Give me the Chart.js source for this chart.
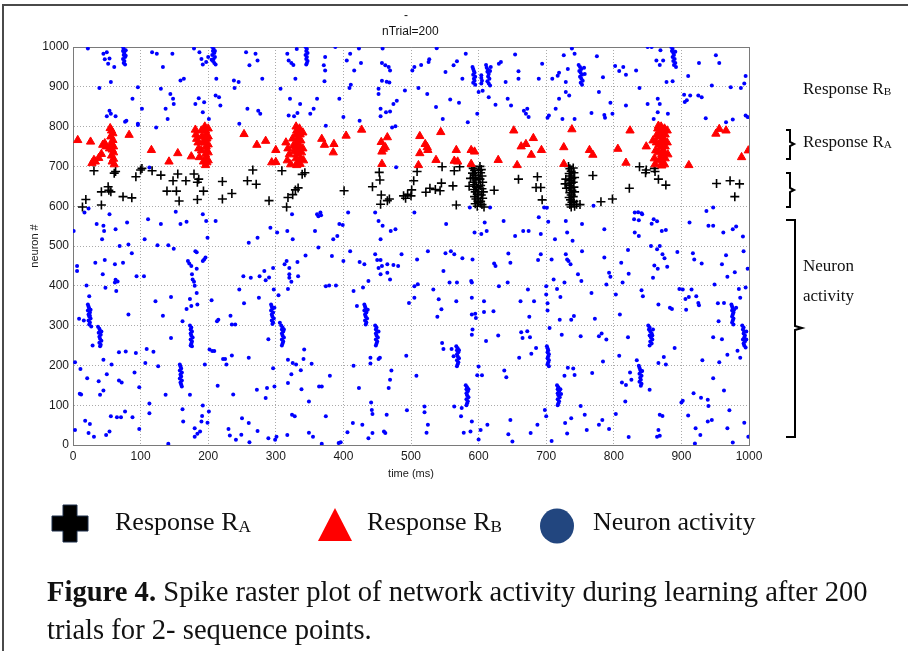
<!DOCTYPE html>
<html><head><meta charset="utf-8">
<script src="https://cdn.jsdelivr.net/npm/chart.js@4.4.1/dist/chart.umd.min.js"></script>
<style>
html,body{margin:0;padding:0;background:#fff;}
body{width:908px;height:651px;position:relative;overflow:hidden;font-family:"Liberation Serif","Times New Roman",serif;color:#111;}
#frame{position:absolute;left:2px;top:4px;width:920px;height:700px;border-top:2px solid #4a4a4a;border-left:2px solid #4a4a4a;}
canvas{position:absolute;left:0;top:0;}
.t{position:absolute;white-space:nowrap;}
.sub{font-size:0.66em;position:relative;top:0.12em;}
svg{position:absolute;left:0;top:0;}
</style>
</head><body>
<div id="frame"></div>
<canvas id="c" width="908" height="651"></canvas>
<svg width="908" height="651" viewBox="0 0 908 651">
  <g fill="none" stroke="#000" stroke-width="2">
    <path d="M786,130 L790,130 L790,142 L794,144 L790,146 L790,159 L786,159"/>
    <path d="M786,173 L790,173 L790,188 L794,190 L790,192 L790,207 L786,207"/>
    <path d="M786,220 L795,220 L795,326 L802,328 L795,330 L795,437 L786,437"/>
  </g>
  <path d="M63,505 L77,505 L77,516 L88,516 L88,531 L77,531 L77,542 L63,542 L63,531 L52,531 L52,516 L63,516 Z" fill="#000" stroke="#1c2f4a" stroke-width="1"/>
  <polygon points="335,508 352,541 318,541" fill="#ff0000"/>
  <ellipse cx="557" cy="526" rx="17" ry="17.5" fill="#22467f"/>
</svg>
<div class="t" style="left:404px;top:8px;font:12px 'Liberation Sans',Arial,sans-serif;">-</div>
<div class="t" style="left:382px;top:24px;font:12px 'Liberation Sans',Arial,sans-serif;">nTrial=200</div>
<div class="t" style="left:803px;top:79px;font-size:17px;line-height:20px;">Response R<span class="sub">B</span></div>
<div class="t" style="left:803px;top:132px;font-size:17px;line-height:20px;">Response R<span class="sub">A</span></div>
<div class="t" style="left:803px;top:256px;font-size:17px;line-height:20px;">Neuron</div>
<div class="t" style="left:803px;top:286px;font-size:17px;line-height:20px;">activity</div>
<div class="t" style="left:115px;top:507px;font-size:26px;line-height:30px;">Response R<span class="sub">A</span></div>
<div class="t" style="left:367px;top:507px;font-size:26px;line-height:30px;">Response R<span class="sub">B</span></div>
<div class="t" style="left:593px;top:507px;font-size:26px;line-height:30px;">Neuron activity</div>
<div class="t" style="left:47px;top:573px;font-size:28.6px;line-height:38px;"><b>Figure 4.</b> Spike raster plot of network activity during learning after 200<br>trials for 2- sequence points.</div>
<script>
const xTicks = [0,100,200,300,400,500,600,700,800,900,1000];
const yTicks = [0,100,200,300,400,500,600,700,800,900,1000];

const responseB = [
[7,766],[26,762],[28,708],[31,716],[33,712],[38,721],[42,731],[44,754],[47,758],[49,750],
[55,796],[57,790],[59,783],[56,775],[59,766],[57,758],[60,750],[58,742],[60,735],[57,727],[60,719],[58,712],[61,705],[54,745],
[83,779],[116,741],[142,712],[155,733],[175,725],
[181,792],[182,780],[183,769],[185,760],[186,745],[187,723],[190,790],[191,775],[192,760],[190,740],[193,712],[195,800],[196,790],[197,780],[198,770],[196,760],[197,750],[198,740],[196,730],[197,720],[198,710],[196,703],[200,795],[200,775],[200,755],[200,735],[200,715],
[253,781],[272,754],[285,764],[294,710],[300,711],[300,741],
[315,760],[318,745],[320,730],[317,715],[322,705],[325,770],[326,752],[327,738],[330,800],[331,790],[330,780],[332,770],[331,760],[330,750],[332,740],[331,730],[330,720],[332,710],[331,703],[335,795],[336,780],[337,765],[336,750],[338,735],[337,720],[336,706],[340,785],[340,745],[341,715],
[368,769],[372,754],[386,756],[385,735],[404,777],[427,792],[456,761],[459,744],[462,748],[465,773],[457,737],[457,706],[513,776],[521,756],[524,748],[513,733],[525,741],[537,716],[544,786],[567,741],[564,714],[569,712],[589,741],[594,737],[589,706],[511,703],[629,716],[652,790],[657,703],[663,750],[670,756],[678,729],[681,771],[693,741],[726,748],[726,706],[738,793],[764,741],[769,729],
[806,744],[818,709],[824,790],[848,750],[858,765],[866,802],
[860,720],[862,740],[863,760],[864,780],[861,705],[865,795],[866,775],[867,755],[866,735],[867,715],[870,800],[871,790],[870,780],[872,770],[871,760],[870,750],[872,740],[871,730],[870,720],[872,710],[871,702],[875,795],[876,780],[875,765],[876,750],[875,735],[876,720],[875,705],[879,790],[879,760],[880,730],
[911,703],[951,782],[956,794],[966,790],[989,723],[999,740]
];

const responseA = [
[14,598],[19,617],[31,689],[42,636],[42,603],[52,649],[53,640],[56,636],[61,683],[63,687],[74,624],[87,621],[93,674],[100,691],[102,695],[117,689],[130,678],[139,638],[148,664],[153,638],[155,681],[157,613],[167,664],[179,681],[184,660],[186,668],[184,617],[193,638],[221,662],[221,618],[235,632],[258,664],[266,691],[271,655],[290,614],[309,689],[316,598],[318,622],[325,629],[329,641],[333,646],[339,680],[343,684],
[401,639],[443,649],[453,685],[454,666],[456,628],[455,605],[465,614],[468,618],[489,626],[492,620],[495,630],[500,626],[501,641],[504,664],[509,687],[522,635],[528,645],[536,642],[543,639],[545,658],[546,699],[562,651],[564,689],[572,699],[567,603],
[590,700],[592,695],[594,690],[591,683],[595,678],[593,672],[596,666],[592,660],[594,654],[597,648],[593,642],[595,636],[598,630],[594,624],[596,618],[599,612],[595,606],[598,600],[602,700],[604,692],[603,684],[605,676],[602,668],[606,660],[603,652],[605,644],[607,636],[604,628],[606,620],[603,612],[605,604],[608,598],[600,690],[600,670],[600,650],[600,630],[600,610],[588,670],[586,650],
[623,640],[659,668],[687,674],[685,647],[692,647],[694,616],
[733,700],[735,694],[737,688],[734,682],[736,676],[738,670],[735,664],[737,658],[734,652],[736,646],[738,640],[735,634],[737,628],[734,622],[736,616],[738,610],[735,604],[737,598],[740,696],[741,684],[742,672],[740,660],[741,648],[742,636],[740,624],[741,612],[742,600],[729,668],[728,656],[730,645],[745,605],
[750,604],[769,677],[781,611],[798,618],[823,645],[838,699],[848,691],[847,684],[860,695],[861,687],[866,668],[877,653],[952,657],[972,664],[986,656],[979,624]
];

const neuronActivity = [
[22,996],[45,983],[50,987],[47,969],[52,958],[54,971],[61,950],[56,912],
[74,1000],[75,995],[74,990],[76,985],[75,980],[77,975],[74,970],[76,965],[75,960],[77,956],[78,992],[78,978],
[39,897],[54,840],[56,832],[50,826],[63,826],[79,815],[88,870],[96,899],[96,807],[102,845],
[117,987],[124,983],[133,950],[147,983],[130,895],[144,882],[148,870],[149,857],[137,845],[140,819],[159,916],[164,920],[123,798],
[179,996],[187,987],[190,970],[192,956],[197,962],[200,975],
[206,1000],[208,995],[207,990],[209,985],[206,980],[210,975],[208,970],[207,965],[209,960],[211,956],[205,968],[210,990],
[181,857],[186,871],[192,836],[194,861],[201,819],[211,878],[216,874],[218,853],[212,920],
[238,916],[245,912],[239,897],[256,987],[270,983],[273,966],[261,954],[280,920],[258,845],[274,840],[277,832],[246,807],
[317,983],[319,966],[323,960],[326,955],[331,995],[329,920],
[344,1000],[346,995],[345,990],[347,985],[344,980],[346,975],[345,970],[347,965],[346,960],[345,956],
[307,895],[321,870],[319,828],[327,826],[332,834],[336,857],[351,832],[356,845],[361,870],[371,954],[373,975],[372,914],[374,802],
[373,941],[394,870],[388,1000],[410,983],[423,996],[426,960],[416,941],[405,966],[400,824],[411,905],[409,897],[424,815],
[458,996],[457,960],[462,954],[467,950],[469,941],[464,913],[468,911],[457,915],[452,895],[452,882],[455,845],[463,836],[469,838],[455,826],[474,857],[479,865],[472,798],[491,891],[477,801],
[502,941],[505,950],[511,897],[524,882],[527,969],[526,962],[538,997],[537,849],[515,955],[547,819],[551,937],[563,954],[568,964],[581,983],[558,868],[571,860],[576,920],[584,811],
[591,950],[592,945],[593,940],[594,935],[592,930],[595,925],[593,920],[594,915],[592,910],[595,905],
[604,929],[604,922],[605,915],[604,908],
[611,955],[612,948],[614,943],[613,938],[615,932],[614,926],[616,920],[613,914],[615,908],[617,903],[618,950],[617,940],
[598,832],[600,887],[606,890],[615,874],[625,855],[630,958],[633,962],[640,912],[643,870],[648,853],[654,981],[659,939],[659,920],[667,840],[670,832],[672,845],[674,824],[689,920],[694,958],
[726,979],[738,996],[742,983],[732,945],[719,935],[717,928],[709,920],[729,912],[729,887],[719,870],[734,878],[724,819],[714,845],[704,828],[702,822],[742,819],
[748,955],[750,950],[752,945],[749,940],[751,935],[753,930],[750,925],[752,920],[754,915],[751,910],[753,905],[756,948],[757,932],
[767,834],[775,977],[784,924],[778,887],[786,829],[787,822],[798,832],[795,860],
[802,952],[808,940],[814,950],[818,930],[833,941],[838,897],[818,853],[850,1000],[856,1000],[869,992],[863,966],[868,955],[873,966],[878,912],[887,914],[850,857],[865,870],[868,857],[859,819],[865,836],[880,832],
[885,1000],[887,995],[886,990],[888,985],[889,980],[887,975],[890,970],[888,965],[891,960],[889,955],[892,950],[891,988],
[910,927],[904,880],[908,866],[913,878],[925,878],[930,874],[926,960],[951,979],[956,960],[945,903],[973,899],[988,897],[993,908],[995,927],[936,821],[966,811],[976,818],[995,828],[998,824],[905,862],
[77,812],[96,804],[113,697],[478,698],
[1,538],[17,584],[23,594],[35,555],[43,517],[45,551],[46,538],[54,580],[63,542],[80,559],[111,567],[106,517],[130,555],[152,586],[159,555],[168,561],[192,580],[197,563],[211,563],[199,521],[273,521],[292,546],[302,534],[317,538],[324,580],[325,517],[358,538],[361,580],[363,575],
[366,584],[367,577],[385,517],[394,555],[399,553],[391,525],[407,584],[447,584],[452,563],[458,551],[455,517],[470,538],[477,542],[505,584],[552,555],[587,597],[594,534],[604,530],[609,559],[612,538],[617,597],[637,563],[654,525],[666,538],[674,538],[689,572],[692,530],[697,597],[701,596],[703,561],[713,517],[729,563],[731,534],[739,513],[753,555],[770,601],
[786,542],[831,584],[836,585],[841,582],[830,567],[837,565],[842,580],[859,567],[864,562],[871,538],[877,540],[856,556],[831,534],[837,525],[912,559],[937,588],[940,551],[947,597],[947,551],[962,534],[976,542],[981,549],[991,524],
[3,38],[6,450],[6,437],[3,208],[11,191],[10,129],[12,127],[18,61],[25,53],[21,168],[23,30],[9,317],[16,313],[20,401],[24,374],[31,21],[29,250],[33,458],[38,160],[40,126],[45,137],[45,214],[47,465],[48,395],[50,178],[49,25],[54,34],[56,72],[57,202],[44,429],[62,408],[63,415],[64,387],[62,454],[66,411],[68,233],[68,162],[69,500],[72,157],[71,70],[65,70],[74,458],[78,235],[77,84],[82,504],[82,328],[87,482],[88,70],[91,182],[93,231],[94,424],[98,145],[98,40],[105,424],[109,241],[107,206],[113,104],[113,80],[119,234],[122,361],[126,198],[125,502],[133,325],[137,126],[141,3],[141,502],[145,269],[145,372],[149,493],
[22,353],[23,348],[24,343],[22,338],[25,333],[23,328],[24,323],[26,318],[23,313],[25,308],[24,303],[27,298],[26,340],[25,325],
[37,297],[39,292],[40,287],[38,282],[41,277],[39,272],[40,267],[42,262],[39,257],[41,252],[40,248],[42,285],
[158,202],[159,197],[160,192],[158,187],[161,182],[159,177],[160,172],[158,167],[161,162],[159,157],[160,152],[161,147],
[162,311],[162,90],[163,59],[168,342],[170,462],[172,456],[173,367],[173,126],[175,349],[175,450],[176,429],[177,416],[179,410],[180,400],[183,382],[183,443],[184,353],[181,487],[183,484],
[173,300],[175,295],[174,290],[176,285],[174,280],[175,275],[177,270],[174,265],[176,260],[175,255],[174,250],[176,248],
[180,42],[180,21],[184,28],[188,34],[190,59],[191,73],[192,99],[195,202],[192,462],[194,466],[196,471],[199,56],[201,84],[202,240],[206,236],[205,364],[209,236],[213,311],[215,315],[214,149],[222,216],[225,216],[227,202],[230,40],[232,24],[235,225],[233,325],[235,303],[237,127],[240,303],[241,13],[246,391],[249,26],[250,67],[252,424],[253,356],[260,55],[260,219],[261,7],[260,508],[263,420],[272,139],[273,35],[275,370],[276,424],[283,437],[285,414],[285,118],[287,143],[289,266],[289,17],[290,421],[296,193],[298,147],[296,445],[297,391],[299,13],[301,21],[304,376],[306,307],[313,454],[316,462],[317,25],[318,392],[320,429],[320,445],[320,420],[323,410],[318,214],[318,156],[323,178],[325,206],[324,76],[330,202],[328,72],[332,460],[333,424],[337,188],[338,140],[341,216],[342,240],[344,476],[349,109],[349,31],[353,204],[355,21],[363,496],[364,147],[368,147],[368,3],[374,72],[374,399],
[293,353],[294,348],[295,343],[293,338],[296,333],[294,328],[295,323],[297,318],[294,313],[296,308],[295,304],[298,345],
[308,300],[310,295],[309,290],[311,285],[309,280],[310,275],[312,270],[309,265],[311,260],[310,255],[309,250],[312,290],
[380,174],[383,475],[379,401],[389,401],[393,5],[396,7],[400,462],[410,487],[415,387],[415,199],[406,32],[414,55],[420,349],[423,143],[424,460],[428,51],[429,396],[431,454],[437,412],[440,219],[440,205],[437,17],[441,107],[442,88],[443,78],[443,30],[447,479],[450,465],[452,445],[455,465],[455,429],[457,450],[462,30],[460,34],[465,454],[465,433],[469,416],[467,143],[469,164],[471,187],[474,452],[481,450],[486,479],[464,76],[454,219],[452,216],[493,224],[494,87],[497,357],[505,370],[505,399],[510,404],[508,174],[509,466],[520,97],[520,82],[523,31],[525,487],[525,51],[533,391],[539,322],[541,366],[545,341],[546,256],[548,437],[548,241],[551,482],[557,408],[559,487],[564,479],[560,241],[567,361],[563,223],[568,408],[564,97],[574,72],[575,93],[576,469],[578,31],[588,34],[590,59],[591,290],[590,277],[589,412],[590,408],[590,370],[591,466],[590,328],[595,330],[596,319],[600,197],[598,175],[600,14],[603,38],[605,175],[608,361],[608,334],[611,261],[613,51],[622,336],[623,456],[625,450],[629,275],[630,399],[638,187],[641,170],[643,408],[644,481],[647,458],[647,63],[644,27],[650,9],[660,219],[662,361],[663,283],[665,269],[672,286],[673,391],[675,322],[676,271],[677,30],[678,229],[682,361],[685,244],[687,51],[688,465],[692,479],[698,88],[700,72],[700,378],[702,356],[700,399],[702,338],[705,294],[708,10],[708,466],[711,416],[716,392],[720,315],[721,372],[723,277],[727,408],[727,174],[729,479],[731,466],[733,462],[736,454],[737,67],[728,55],[731,29],[732,194],[737,315],[740,192],[741,324],[742,176],[747,429],[751,273],[751,98],[752,412],[757,76],[760,38],[768,181],[767,382],[772,317],[753,487],
[431,353],[432,348],[433,343],[431,338],[434,333],[432,328],[433,323],[435,318],[432,313],[434,308],[433,303],[436,340],
[447,300],[449,295],[448,290],[450,285],[448,280],[449,275],[451,270],[448,265],[450,260],[449,255],[448,250],[452,285],
[567,248],[569,243],[568,238],[570,233],[568,228],[569,223],[571,218],[568,213],[570,208],[569,203],[568,198],[571,238],
[581,150],[583,145],[582,140],[584,135],[582,130],[583,125],[585,120],[582,115],[584,110],[583,105],[582,100],[585,140],
[701,248],[702,243],[703,238],[702,233],[704,228],[703,223],[702,218],[704,213],[703,208],[702,203],[704,198],
[716,150],[718,145],[717,140],[719,135],[717,130],[718,125],[720,120],[717,115],[719,110],[718,105],[717,100],[721,140],[722,128],
[778,273],[782,280],[789,265],[784,210],[786,471],[789,403],[793,433],[795,423],[803,378],[778,51],[783,63],[793,40],[803,78],[809,328],[808,224],[811,458],[813,408],[817,109],[812,157],[818,151],[821,490],[822,430],[821,271],[822,20],[824,182],[826,164],[834,213],[841,389],[843,374],[853,139],[855,500],[858,420],[860,451],[864,492],[865,443],[866,353],[866,206],[868,76],[872,73],[864,21],[868,23],[866,38],[868,500],[872,479],[875,469],[879,448],[874,221],[877,202],[883,345],[886,342],[890,244],[894,485],[897,392],[902,391],[906,367],[902,111],[900,107],[907,340],[910,74],[917,482],[919,466],[918,130],[915,391],[911,372],[922,374],[925,357],[926,351],[921,42],[920,4],[928,25],[929,119],[930,456],[931,213],[939,114],[940,98],[939,59],[945,63],[947,168],[947,271],[949,403],[954,356],[955,311],[956,208],[960,266],[960,454],[963,357],[963,137],[966,477],[968,42],[968,423],[968,227],[971,87],[976,6],[979,434],[981,345],[983,237],[985,392],[987,370],[987,219],[992,487],[993,56],[998,443],[999,21],[995,396],
[837,199],[838,194],[839,189],[840,184],[838,179],[841,174],[839,169],[840,164],[838,159],[841,154],[840,149],[842,186],
[851,300],[853,295],[852,290],[854,285],[856,280],[853,275],[855,270],[857,265],[854,260],[856,255],[853,250],[858,290],[857,275],
[974,353],[975,348],[976,343],[975,338],[977,333],[976,328],[975,323],[977,318],[976,313],[975,308],[977,303],[978,340],
[990,300],[992,295],[991,290],[993,285],[992,280],[994,275],[993,270],[991,265],[994,260],[992,255],[993,250],[995,245],[996,285],[996,265]
];

const toPts = a => a.map(([x, y]) => ({x, y}));
const tickFont = {family: "'Liberation Sans', Arial, sans-serif", size: 12};
const labFont = {family: "'Liberation Sans', Arial, sans-serif", size: 11};

new Chart(document.getElementById('c'), {
  type: 'scatter',
  data: {
    datasets: [
      {label: 'Response RB', data: toPts(responseB), pointStyle: 'triangle', radius: 4.8,
       backgroundColor: '#ff0000', borderColor: '#ff0000', borderWidth: 1},
      {label: 'Response RA', data: toPts(responseA), pointStyle: 'cross', radius: 4.5,
       backgroundColor: '#000', borderColor: '#000', borderWidth: 1.6},
      {label: 'Neuron activity', data: toPts(neuronActivity), pointStyle: 'circle', radius: 2,
       backgroundColor: '#0000ff', borderColor: '#0000ff', borderWidth: 0}
    ]
  },
  options: {
    responsive: false,
    animation: false,
    events: [],
    layout: {padding: {left: 24, top: 47, right: 159, bottom: 166}},
    plugins: {legend: {display: false}, title: {display: false}, tooltip: {enabled: false}},
    scales: {
      x: {
        type: 'linear', position: 'bottom', min: 0, max: 1000,
        afterBuildTicks: s => { s.ticks = xTicks.map(v => ({value: v})); },
        ticks: {color: '#1a1a1a', font: tickFont, padding: 4, maxRotation: 0, autoSkip: false, callback: v => String(v)},
        grid: {color: '#aaaaaa', lineWidth: 1, drawTicks: false},
        border: {color: '#7a7a7a', width: 1, dash: [1, 2]},
        title: {display: true, text: 'time (ms)', color: '#1a1a1a', font: labFont, padding: {top: 2, bottom: 4}},
        afterFit: s => { s.height = 40; }
      },
      y: {
        type: 'linear', position: 'left', min: 0, max: 1000,
        afterBuildTicks: s => { s.ticks = yTicks.map(v => ({value: v})); },
        ticks: {color: '#1a1a1a', font: tickFont, padding: 4, autoSkip: false, callback: v => String(v)},
        grid: {color: '#aaaaaa', lineWidth: 1, drawTicks: false},
        border: {color: '#7a7a7a', width: 1, dash: [1, 2]},
        title: {display: true, text: 'neuron #', color: '#1a1a1a', font: labFont, padding: {top: 4, bottom: 4}},
        afterFit: s => { s.width = 49; }
      },
      x2: {
        type: 'linear', position: 'top', min: 0, max: 1000,
        ticks: {display: false}, grid: {display: false, drawTicks: false},
        border: {display: true, color: '#7a7a7a', width: 1},
        afterFit: s => { s.height = 0; }
      },
      y2: {
        type: 'linear', position: 'right', min: 0, max: 1000,
        ticks: {display: false}, grid: {display: false, drawTicks: false},
        border: {display: true, color: '#7a7a7a', width: 1},
        afterFit: s => { s.width = 0; }
      }
    }
  }
});
</script>
</body></html>
